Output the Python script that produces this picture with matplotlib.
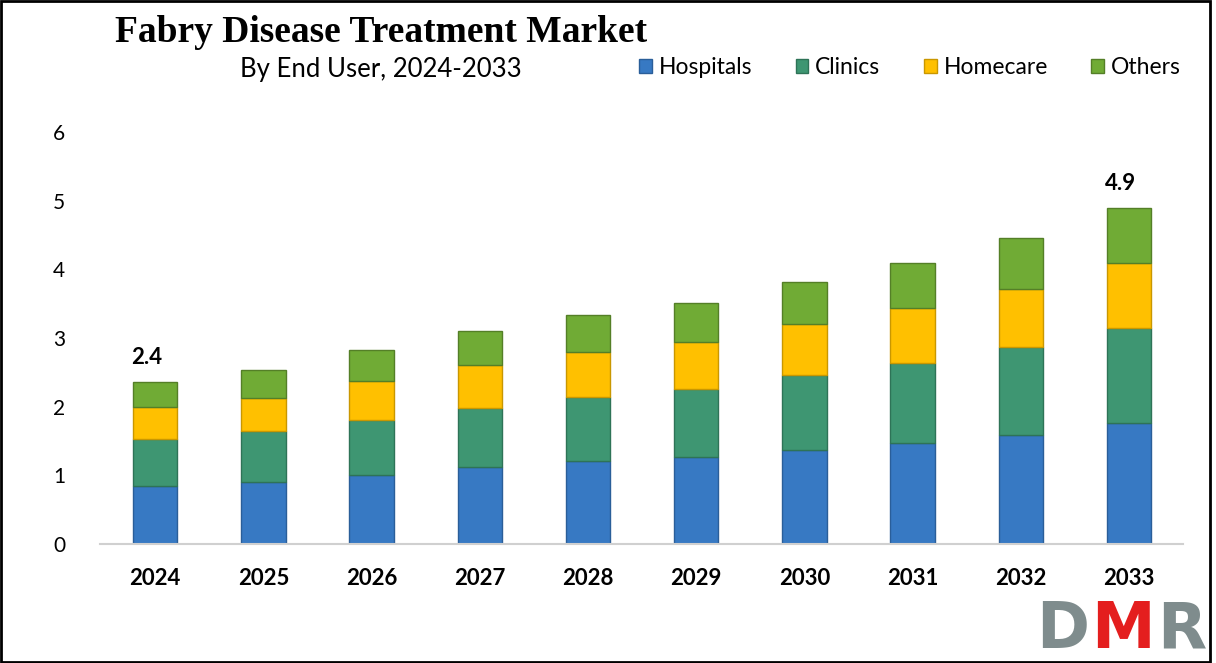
import matplotlib.pyplot as plt
import numpy as np
from matplotlib.patches import Rectangle

years = ['2024', '2025', '2026', '2027', '2028', '2029', '2030', '2031', '2032', '2033']
hospitals = [0.85, 0.91, 1.00, 1.12, 1.21, 1.27, 1.37, 1.47, 1.59, 1.76]
clinics = [0.68, 0.73, 0.81, 0.86, 0.93, 0.99, 1.09, 1.17, 1.28, 1.38]
homecare = [0.46, 0.49, 0.56, 0.63, 0.66, 0.68, 0.74, 0.80, 0.85, 0.95]
others = [0.37, 0.41, 0.46, 0.49, 0.53, 0.57, 0.62, 0.65, 0.73, 0.80]
segment_names = ['Hospitals', 'Clinics', 'Homecare', 'Others']
total_labels = {0: '2.4', 9: '4.9'}

colors = ['#3779C3', '#3E9672', '#FFC000', '#70AB35']
edges = ['#2A5E99', '#2E7357', '#C99700', '#547F27']

plt.rcParams['font.family'] = ['Lato', 'DejaVu Sans']

fig = plt.figure(figsize=(12.16, 6.63), dpi=100)
ax = fig.add_axes([100 / 1216, 119 / 663, 1083 / 1216, 412 / 663])

x = np.arange(len(years))
bottom = np.zeros(len(years))
series = [hospitals, clinics, homecare, others]
for vals, name, c, ec in zip(series, segment_names, colors, edges):
    ax.bar(x, vals, 0.41, bottom=bottom, color=c, edgecolor=ec, linewidth=1.0, label=name)
    bottom += np.array(vals)

for i, txt in total_labels.items():
    ax.text(x[i] - 0.08, bottom[i] + 0.2, txt, ha='center', va='bottom',
            fontsize=16, fontweight='bold')

ax.set_xlim(-0.51, 9.5)
ax.set_ylim(0, 6)
ax.set_yticks(range(7))
ax.set_xticks(x)
ax.set_xticklabels(years, fontweight='bold')
ax.tick_params(axis='both', length=0)
ax.tick_params(axis='x', pad=17, labelsize=16)
ax.tick_params(axis='y', pad=25, labelsize=15)
for s in ['top', 'right', 'left']:
    ax.spines[s].set_visible(False)
ax.spines['bottom'].set_color('#D0D0D0')
ax.spines['bottom'].set_linewidth(1.5)

fig.text(381 / 1216, 1 - 32 / 663, 'Fabry Disease Treatment Market', ha='center', va='center',
         fontsize=27, fontweight='bold', family='Liberation Serif')
fig.text(381 / 1216, 1 - 70 / 663, 'By End User, 2024-2033', ha='center', va='center', fontsize=18.5)

ax.legend(loc='center', bbox_to_anchor=(910 / 1216, 1 - 68 / 663), bbox_transform=fig.transFigure,
          ncol=4, frameon=False, fontsize=16.5, handlelength=0.55, handleheight=0.55,
          handletextpad=0.3, columnspacing=1.9)

# DMR logo
logo = [('D', '#7F8C8D', 1036), ('M', '#E41E1E', 1091), ('R', '#7F8C8D', 1157)]
for ch, col, px in logo:
    fig.text(px / 1216, 2 / 663, ch, color=col, fontsize=46, fontweight='bold',
             family='DejaVu Sans', ha='left', va='bottom')

fig.patches.append(Rectangle((0.001, 0.002), 0.994, 0.996, transform=fig.transFigure,
                             fill=False, edgecolor='black', linewidth=2))

fig.savefig('out.png', dpi=100)
